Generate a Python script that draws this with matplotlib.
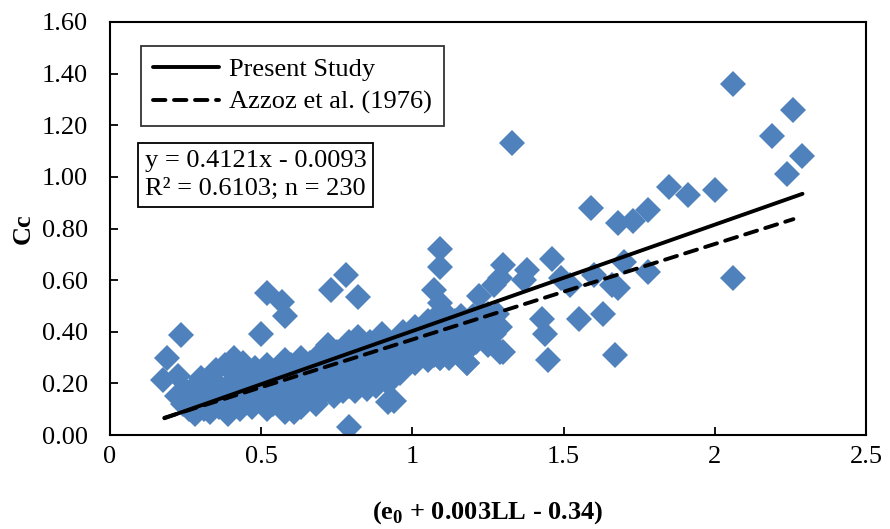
import numpy as np
import matplotlib
matplotlib.use('Agg')
import matplotlib.pyplot as plt

plt.rcParams['font.family'] = ['Liberation Serif', 'DejaVu Serif']
plt.rcParams['mathtext.fontset'] = 'custom'
plt.rcParams['mathtext.rm'] = 'Liberation Serif'
plt.rcParams['mathtext.bf'] = 'Liberation Serif:bold'

# scatter points (outliers first, then the dense cloud)
x_pts = [2.06, 2.26, 2.19, 2.29, 2.24, 2.06, 2.00, 1.91, 1.85, 1.78,
         1.73, 1.68, 1.59, 1.70, 1.78, 1.66, 1.68, 1.67, 1.63, 1.55,
         1.60, 1.52, 1.49, 1.46, 1.45, 1.44, 1.43, 1.33, 1.37, 1.38,
         1.30, 1.29, 1.30, 1.27, 1.28, 1.25, 1.22, 1.20, 1.18, 1.09,
         1.09, 1.07, 1.09, 1.05, 0.99, 0.94, 0.79, 0.78, 0.82, 0.73,
         0.52, 0.57, 0.58, 0.50, 0.235, 0.19, 0.175, 0.225,
         # x 0.2-0.38
         0.22, 0.24, 0.25, 0.26, 0.27, 0.28, 0.28, 0.29, 0.30, 0.30,
         0.31, 0.32, 0.32, 0.33, 0.34, 0.35, 0.35, 0.36, 0.37, 0.38,
         # x 0.38-0.55
         0.38, 0.39, 0.40, 0.40, 0.41, 0.42, 0.42, 0.43, 0.44, 0.44,
         0.45, 0.46, 0.46, 0.47, 0.48, 0.48, 0.49, 0.50, 0.50, 0.51,
         0.52, 0.52, 0.53, 0.54, 0.54,
         # x 0.55-0.75
         0.55, 0.56, 0.56, 0.57, 0.58, 0.58, 0.59, 0.59, 0.60, 0.60,
         0.61, 0.61, 0.62, 0.62, 0.63, 0.63, 0.64, 0.64, 0.65, 0.66,
         0.66, 0.67, 0.68, 0.68, 0.69, 0.69, 0.70, 0.70, 0.71, 0.72,
         0.72, 0.73, 0.74, 0.74, 0.75,
         # x 0.75-0.96
         0.76, 0.76, 0.77, 0.78, 0.78, 0.79, 0.79, 0.80, 0.80, 0.81,
         0.81, 0.82, 0.82, 0.83, 0.83, 0.84, 0.85, 0.85, 0.86, 0.86,
         0.87, 0.87, 0.88, 0.88, 0.89, 0.89, 0.90, 0.90, 0.91, 0.92,
         0.92, 0.93, 0.94, 0.95, 0.96,
         # x 0.96-1.14
         0.96, 0.97, 0.98, 0.99, 1.00, 1.00, 1.01, 1.01, 1.02, 1.03,
         1.03, 1.04, 1.05, 1.05, 1.06, 1.06, 1.07, 1.07, 1.08, 1.08,
         1.09, 1.10, 1.10, 1.11, 1.11, 1.12, 1.12, 1.13, 1.14, 1.14,
         # x 1.15-1.3
         1.15, 1.15, 1.16, 1.16, 1.17, 1.17, 1.18, 1.18, 1.19, 1.20,
         1.21, 1.21, 1.22, 1.23, 1.24, 1.25, 1.26, 1.27, 1.28, 1.29,
         1.01, 1.09, 1.18, 1.29, 0.92, 0.65, 0.75]
y_pts = [1.36, 1.26, 1.16, 1.08, 1.01, 0.61, 0.95, 0.93, 0.96, 0.87,
         0.83, 0.82, 0.88, 0.67, 0.63, 0.58, 0.57, 0.31, 0.47, 0.45,
         0.62, 0.58, 0.61, 0.68, 0.29, 0.39, 0.45, 1.13, 0.60, 0.64,
         0.66, 0.61, 0.32, 0.58, 0.42, 0.47, 0.54, 0.46, 0.28, 0.72,
         0.65, 0.56, 0.51, 0.44, 0.29, 0.13, 0.03, 0.62, 0.535, 0.56,
         0.55, 0.515, 0.46, 0.39, 0.388, 0.30, 0.213, 0.23,
         0.15, 0.12, 0.17, 0.10, 0.14, 0.08, 0.19, 0.12, 0.16, 0.22,
         0.10, 0.13, 0.18, 0.09, 0.21, 0.15, 0.25, 0.11, 0.18, 0.27,
         0.14, 0.08, 0.20, 0.12, 0.30, 0.16, 0.24, 0.10, 0.19, 0.28,
         0.13, 0.22, 0.15, 0.11, 0.20, 0.26, 0.17, 0.13, 0.23, 0.19,
         0.10, 0.27, 0.16, 0.22, 0.12,
         0.18, 0.25, 0.14, 0.20, 0.09, 0.29, 0.16, 0.23, 0.12, 0.27,
         0.19, 0.09, 0.22, 0.15, 0.30, 0.11, 0.18, 0.25, 0.14, 0.21,
         0.28, 0.17, 0.24, 0.12, 0.20, 0.31, 0.16, 0.26, 0.22, 0.18,
         0.35, 0.28, 0.15, 0.24, 0.32,
         0.20, 0.27, 0.17, 0.23, 0.33, 0.19, 0.36, 0.26, 0.21, 0.30,
         0.17, 0.24, 0.38, 0.20, 0.28, 0.33, 0.22, 0.18, 0.26, 0.36,
         0.21, 0.30, 0.24, 0.19, 0.34, 0.27, 0.22, 0.39, 0.29, 0.25,
         0.20, 0.33, 0.27, 0.37, 0.31,
         0.24, 0.40, 0.34, 0.29, 0.37, 0.32, 0.42, 0.28, 0.35, 0.31,
         0.39, 0.33, 0.37, 0.29, 0.41, 0.34, 0.31, 0.45, 0.38, 0.33,
         0.30, 0.42, 0.36, 0.33, 0.47, 0.39, 0.30, 0.36, 0.44, 0.33,
         0.38, 0.41, 0.35, 0.46, 0.32, 0.40, 0.37, 0.43, 0.34, 0.39,
         0.42, 0.36, 0.45, 0.38, 0.41, 0.35, 0.44, 0.39, 0.47, 0.42,
         0.283, 0.30, 0.28, 0.32, 0.128, 0.135, 0.19]

# fitted lines
slope_present, icept_present = 0.4121, -0.0093
slope_azzoz, icept_azzoz = 0.37, 0.0
x_line = [0.18, 2.29]
x_azzoz = [0.18, 2.26]

fig = plt.figure(figsize=(8.9, 5.29), dpi=100)
ax = fig.add_axes([110/890, 1-435/529, (866-110)/890, (435-22)/529])

ax.plot(x_pts, y_pts, 'D', color='#4F81BD', markersize=12.8, markeredgewidth=0, zorder=2)
y_line = [slope_present*v + icept_present for v in x_line]
y_az = [slope_azzoz*v + icept_azzoz for v in x_azzoz]
ax.plot(x_line, y_line, '-', color='black', lw=2.8, solid_capstyle='round', label='Present Study', zorder=3)
ax.plot(x_azzoz, y_az, '--', color='black', lw=2.8, dashes=(3.2, 2.2), dash_capstyle='round', label='Azzoz et al. (1976)', zorder=3)

ax.set_xlim(0, 2.5)
ax.set_ylim(0, 1.6)
ax.set_xticks([0, 0.5, 1, 1.5, 2, 2.5])
ax.set_xticklabels(['0', '0.5', '1', '1.5', '2', '2.5'])
ax.set_yticks(np.arange(0, 1.61, 0.2))
ax.set_yticklabels(['%.2f' % v for v in np.arange(0, 1.61, 0.2)])
ax.tick_params(axis='both', direction='in', length=6, width=1.3, labelsize=19)
ax.tick_params(axis='y', pad=16)
ax.tick_params(axis='x', pad=8)
for s in ax.spines.values():
    s.set_linewidth(1.5)

ax.set_xlabel(r'(e$_\mathbf{0}$ + 0.003LL - 0.34)', fontsize=19, fontweight='bold', labelpad=22)
ax.set_ylabel('Cc', fontsize=19, fontweight='bold', labelpad=5)

leg = ax.legend(loc='upper left', bbox_to_anchor=(141/890, 1-46/529), bbox_transform=fig.transFigure,
                fontsize=19, frameon=True, fancybox=False, handlelength=2.5, handletextpad=0.4,
                borderpad=0.45, labelspacing=0.35, borderaxespad=0)
leg.get_frame().set_edgecolor('black')
leg.get_frame().set_linewidth(1.3)

fig.text(145/890, 1-150/529, 'y = 0.4121x - 0.0093\nR² = 0.6103; n = 230', fontsize=19,
         va='top', ha='left', linespacing=1.35,
         bbox=dict(boxstyle='square,pad=0.25', facecolor='white', edgecolor='black', linewidth=1.3))

plt.savefig('out.png', dpi=100)
